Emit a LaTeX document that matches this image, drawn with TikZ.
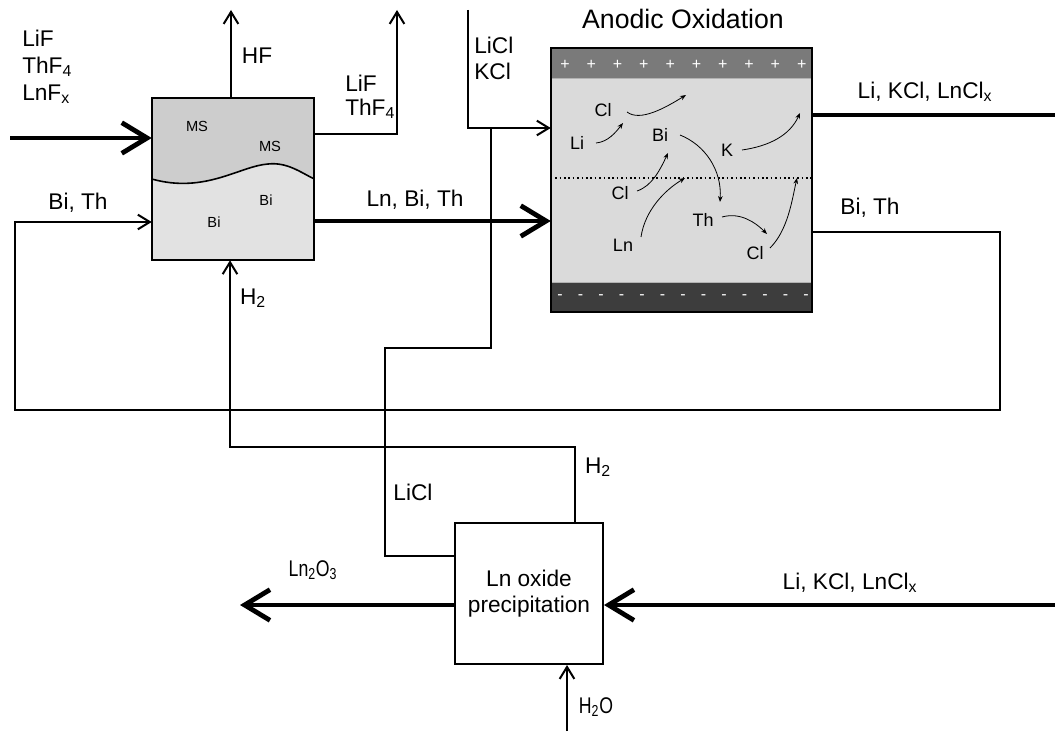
\documentclass[tikz,border=0pt]{standalone}
\usepackage{fontspec}
\setmainfont{Liberation Sans}
\newfontfamily\narrowsans[FakeStretch=0.78]{Liberation Sans}
\usetikzlibrary{arrows.meta,positioning,calc}
\definecolor{msgray}{HTML}{CDCDCD}
\definecolor{bigray}{HTML}{E2E2E2}
\definecolor{cellgray}{HTML}{DADADA}
\definecolor{anodegray}{HTML}{7A7A7A}
\definecolor{cathodegray}{HTML}{3D3D3D}
\tikzset{
  flow/.style={line width=1.5pt},
  flowarrow/.style={flow,-{Straight Barb[length=9pt,width=11pt]}},
  mainflow/.style={line width=3.6pt},
  mainarrow/.style={mainflow,-{Straight Barb[length=19pt,width=23pt]}},
  ionarrow/.style={line width=0.6pt,-{Stealth[length=4.5pt,width=3.5pt]}},
  streamlabel/.style={font=\fontsize{17}{20}\selectfont,inner sep=0pt},
  narrowlabel/.style={font=\narrowsans\fontsize{17}{20}\selectfont,inner sep=0pt},
  ionlabel/.style={font=\fontsize{13.5}{15}\selectfont,inner sep=0pt},
  phaselabel/.style={font=\fontsize{11}{12}\selectfont,inner sep=0pt},
  unitbox/.style={inner sep=0pt},
  signlabel/.style={font=\fontsize{12}{13}\selectfont,text=white,inner sep=0pt},
}

\begin{document}
\begin{tikzpicture}[x=0.75pt,y=-0.75pt]
  \useasboundingbox (0,0) rectangle (1055,731);

  % Fluorinator (molten salt over bismuth)
  \node[unitbox,fill=bigray,minimum width=121.5pt,minimum height=121.5pt] (fluor) at (233,179) {};
  \fill[msgray] (fluor.north west) -- (fluor.north east) -- (fluor.east)
    .. controls (300,172) and (287,162) .. (268,164)
    .. controls (240,166) and (205,194) .. (fluor.west) -- cycle;
  \draw[line width=1.2pt] (fluor.east)
    .. controls (300,172) and (287,162) .. (268,164)
    .. controls (240,166) and (205,194) .. (fluor.west);
  \draw[flow] (fluor.north west) rectangle (fluor.south east);
  \node[phaselabel] (ms1) at (197,126) {MS};
  \node[phaselabel] (ms2) at (270,146) {MS};
  \node[phaselabel] (bi1) at (266,200) {Bi};
  \node[phaselabel] (bi2) at (214,222) {Bi};

  % Anodic oxidation cell
  \node[unitbox,fill=cellgray,minimum width=195.75pt,minimum height=198pt] (anode) at (681.5,180) {};
  \fill[anodegray] (anode.north west) rectangle ($(anode.north east)+(0,31)$);
  \fill[cathodegray] ($(anode.south west)+(0,-30)$) rectangle (anode.south east);
  \draw[gray!60,line width=0.8pt] ($(anode.north west)+(0,31)$) -- ($(anode.north east)+(0,31)$);
  \draw[gray!60,line width=0.8pt] ($(anode.south west)+(0,-30)$) -- ($(anode.south east)+(0,-30)$);
  \draw[flow] (anode.north west) rectangle (anode.south east);
  \coordinate (interface) at (681.5,178);
  \draw[dotted,line width=1.3pt] (anode.west |- interface) -- (anode.east |- interface);
  \foreach \k in {0,...,9}
    \node[signlabel] (plus\k) at (565+26.3*\k,65) {+};
  \foreach \k in {0,...,12}
    \node[signlabel] (minus\k) at (560+20.5*\k,297) {-};
  \node[font=\fontsize{20}{22}\selectfont,inner sep=0pt] (title) at (683,19) {Anodic Oxidation};

  % ions
  \node[ionlabel] (cla) at (603,110) {Cl};
  \node[ionlabel] (li) at (577,143) {Li};
  \node[ionlabel] (bi) at (660,135) {Bi};
  \node[ionlabel] (k) at (727,150) {K};
  \node[ionlabel] (clb) at (620,193) {Cl};
  \node[ionlabel] (ln) at (623,245) {Ln};
  \node[ionlabel] (th) at (703,220) {Th};
  \node[ionlabel] (clc) at (755,253) {Cl};
  \draw[ionarrow] (627,112) .. controls (640,122) and (665,108) .. (686,95);
  \draw[ionarrow] (596,143) .. controls (608,142) and (616,132) .. (623,123);
  \draw[ionarrow] (680,135) .. controls (705,145) and (722,170) .. (720,202);
  \draw[ionarrow] (742,150) .. controls (770,146) and (790,135) .. (800,113);
  \draw[ionarrow] (637,191) .. controls (652,186) and (660,170) .. (668,153);
  \draw[ionarrow] (641,237) .. controls (645,210) and (665,190) .. (685,178);
  \draw[ionarrow] (722,217) .. controls (740,212) and (755,222) .. (767,234);
  \draw[ionarrow] (770,248) .. controls (788,230) and (792,200) .. (797,178);

  % Ln oxide precipitation
  \node[unitbox,draw,line width=1.5pt,fill=white,minimum width=111pt,minimum height=105.75pt,
    align=center,font=\fontsize{17}{19}\selectfont] (precip) at (529,593.5) {Ln oxide\\precipitation};

  % feed and fluorinator streams
  \coordinate (feed) at (10,138);
  \draw[mainarrow] (feed) -- (feed -| fluor.west);
  \node[streamlabel,align=left,anchor=west,font=\fontsize{17}{20}\selectfont] (feedlbl) at (22,67)
    {LiF\\ThF\textsubscript{4}\\LnF\textsubscript{x}};
  \coordinate (hfout) at (231,10);
  \draw[flowarrow] (fluor.north -| hfout) -- (hfout);
  \node[streamlabel] (hflbl) at (257,56) {HF};
  \coordinate (saltbend) at (397,134);
  \coordinate (saltout) at (397,10);
  \draw[flowarrow] (fluor.east |- saltbend) -- (saltbend) -- (saltout);
  \node[streamlabel,align=left,anchor=west,font=\fontsize{17}{17.5}\selectfont] (saltlbl) at (345,97) {LiF\\ThF\textsubscript{4}};
  \coordinate (metalrow) at (430,221);
  \draw[mainarrow] (fluor.east |- metalrow) -- (anode.west |- metalrow);
  \node[streamlabel] (metallbl) at (415,200) {Ln, Bi, Th};

  % Bi, Th recycle
  \coordinate (recR) at (1000,232);
  \coordinate (recL) at (15,410);
  \coordinate (recin) at (100,222);
  \draw[flowarrow] (anode.east |- recR) -- (recR) |- (recL) |- (fluor.west |- recin);
  \node[streamlabel] (recinlbl) at (78,203) {Bi, Th};
  \node[streamlabel] (recoutlbl) at (870,208) {Bi, Th};

  % chloride streams
  \coordinate (chlin) at (468,10);
  \coordinate (chlrow) at (520,128);
  \draw[flowarrow] (chlin) |- (anode.west |- chlrow);
  \node[streamlabel,align=left,anchor=west,font=\fontsize{17}{19.5}\selectfont] (chllbl) at (474,58) {LiCl\\KCl};
  \coordinate (liclA) at (491,128);
  \coordinate (liclB) at (385,348);
  \coordinate (liclrow) at (420,556);
  \draw[flow] (liclA) |- (liclB) |- (precip.west |- liclrow);
  \node[streamlabel] (licllbl) at (413,492) {LiCl};
  \coordinate (saltR) at (1055,115);
  \draw[mainflow] (anode.east |- saltR) -- (saltR);
  \node[streamlabel] (saltRlbl) at (925,92) {Li, KCl, LnCl\textsubscript{x}};

  % hydrogen return
  \coordinate (hbend) at (575,447);
  \coordinate (hleft) at (230,447);
  \draw[flowarrow] (precip.north -| hbend) -- (hbend) -- (hleft) -- (fluor.south -| hleft);
  \node[streamlabel] (hflbl2) at (253,298) {H\textsubscript{2}};
  \node[streamlabel] (hplbl) at (598,467) {H\textsubscript{2}};

  % precipitation streams
  \coordinate (oxout) at (240,605);
  \draw[mainarrow] (precip.west |- oxout) -- (oxout);
  \node[narrowlabel] (oxlbl) at (313,570) {Ln\textsubscript{2}O\textsubscript{3}};
  \coordinate (saltin) at (1055,605);
  \draw[mainarrow] (saltin) -- (precip.east |- saltin);
  \node[streamlabel] (saltinlbl) at (850,583) {Li, KCl, LnCl\textsubscript{x}};
  \coordinate (waterin) at (567,731);
  \draw[flowarrow] (waterin) -- (precip.south -| waterin);
  \node[narrowlabel] (waterlbl) at (596,707) {H\textsubscript{2}O};
\end{tikzpicture}
\end{document}
